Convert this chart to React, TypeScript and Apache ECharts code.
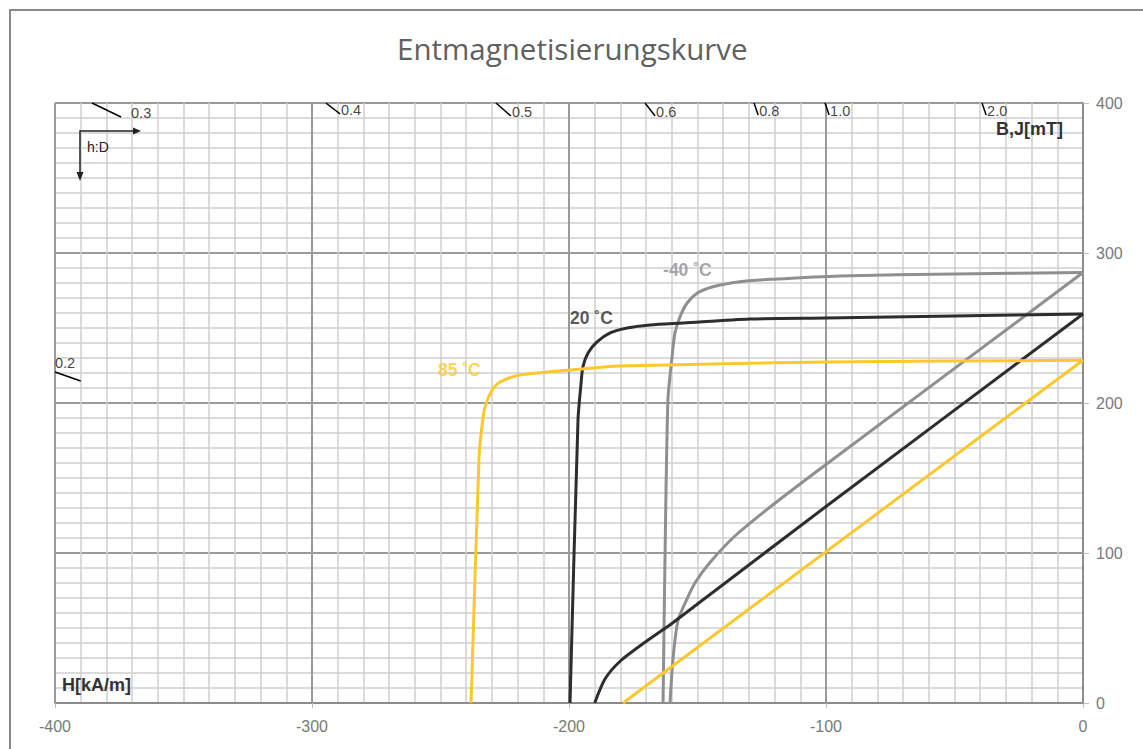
import React, { useEffect, useRef } from "react";
import * as echarts from "echarts";

// ---------- data ----------
const xTicks = [-400, -300, -200, -100, 0];
const yTicks = [0, 100, 200, 300, 400];

// -40 °C
const jM40H = [0, -50, -94.6, -120.6, -133.5, -144, -150.2, -154.1, -156.8, -158.8, -159.9, -161.5, -162.6, -163.4];
const jM40B = [287, 286, 284.7, 282.5, 280.9, 277.5, 273.1, 266.5, 257.5, 246.5, 230.9, 202, 102, 0];
const bM40H = [0, -100, -120, -135, -145, -151, -155, -157.6, -159.5, -160.7];
const bM40B = [287, 159, 133, 112, 94, 80, 66, 55, 30, 0];

// 20 °C
const j20H = [0, -50, -100, -129.6, -155.6, -168.5, -177.4, -184, -189.1, -192.6, -194.6, -195.3, -196.5, -199.6];
const j20B = [259.3, 258, 256.7, 256, 253.3, 252, 250, 246.7, 240.7, 233.3, 224, 213.3, 188.7, 0];
const b20H = [0, -100, -150, -160, -170, -180, -186, -190];
const b20B = [259.3, 131, 66, 53, 41, 28, 16, 0];

// 85 °C
const j85H = [0, -100, -180.2, -199.6, -219.1, -226.8, -229.9, -232.7, -233.9, -235, -238.1];
const j85B = [228.5, 227.3, 224.7, 222, 218.7, 214, 208.7, 197.3, 184, 164, 0];
const b85H = [0, -179];
const b85B = [228.5, 0];

// load lines (h:D) – start/end in data units
const loadLabels = ["0.3", "0.4", "0.5", "0.6", "0.8", "1.0", "2.0", "0.2"];
const loadX1 = [-385.6, -294.6, -228.4, -170.4, -128, -100.4, -39.3, -400];
const loadY1 = [400, 400, 400, 400, 400, 400, 400, 220.7];
const loadX2 = [-374.3, -289.1, -222.6, -166.5, -126.4, -98.8, -37.7, -390];
const loadY2 = [390.7, 392.7, 391.3, 391.3, 392, 392, 392, 214.7];

// curve labels
const curveNames = ["-40 ˚C", "20 ˚C", "85 ˚C"];
const curveLabelH = [-163.4, -199.6, -251];
const curveLabelB = [288.7, 256.7, 222];

const GRAY = "#8f8f91";
const BLACK = "#2c2d2f";
const YELLOW = "#fdc72e";
const curveColors = [GRAY, BLACK, YELLOW];
const FONT = "'Liberation Sans', Arial, sans-serif";

const zip = (a: number[], b: number[]) => a.map((v, i) => [v, b[i]]);

export default function App() {
  const ref = useRef<HTMLDivElement>(null);
  useEffect(() => {
    if (!ref.current) return;
    const chart = echarts.init(ref.current, undefined, { renderer: "svg" });

    const curve = (name: string, h: number[], b: number[], color: string, smooth: number) => ({
      name,
      type: "line",
      data: zip(h, b),
      showSymbol: false,
      symbol: "none",
      smooth,
      lineStyle: { color, width: 3 },
      z: 5,
    });

    const loadSeries = loadLabels.map((l, i) => ({
      type: "line",
      data: [
        [loadX1[i], loadY1[i]],
        [loadX2[i], loadY2[i]],
      ],
      showSymbol: false,
      symbol: "none",
      lineStyle: { color: "#000", width: 1.5 },
      z: 4,
    }));

    const loadLabelSeries = {
      type: "scatter",
      symbolSize: 0,
      z: 6,
      data: loadLabels.map((l, i) => ({
        value: i === 7 ? [loadX1[i], loadY1[i]] : [loadX2[i], loadY2[i]],
        label: {
          show: true,
          formatter: l,
          position: i === 7 ? [0, -1] : [i === 0 ? 10 : 1, -4],
          align: "left",
          verticalAlign: i === 7 ? "bottom" : "middle",
          color: "#111",
          fontSize: 14.5,
          fontFamily: FONT,
        },
      })),
    };

    const curveLabelSeries = {
      type: "scatter",
      symbolSize: 0,
      z: 7,
      data: curveNames.map((n, i) => ({
        value: [curveLabelH[i], curveLabelB[i]],
        label: {
          show: true,
          formatter: n,
          position: [0, 0],
          align: "left",
          verticalAlign: "middle",
          color: curveColors[i],
          fontSize: 17.5,
          fontWeight: "bold",
          fontFamily: FONT,
        },
      })),
    };

    chart.setOption({
      animation: false,
      title: {
        text: "Entmagnetisierungskurve",
        left: 392,
        top: 28,
        textStyle: {
          color: "#606060",
          fontSize: 29.5,
          fontWeight: "normal",
          fontFamily: "'Open Sans', sans-serif",
        },
      },
      grid: { left: 55, top: 103, right: 60, bottom: 46, containLabel: false },
      xAxis: {
        type: "value",
        min: xTicks[0],
        max: xTicks[xTicks.length - 1],
        interval: 100,
        axisLine: { show: true, onZero: false, lineStyle: { color: "#8c8c8c", width: 2 } },
        axisTick: { show: true, length: 5, lineStyle: { color: "#bdbdbd" } },
        axisLabel: { color: "#7a7a7a", fontSize: 16, margin: 15, fontFamily: FONT },
        splitLine: { show: true, lineStyle: { color: "#9a9a9a", width: 2 } },
        minorTick: { show: false, splitNumber: 10 },
        minorSplitLine: { show: true, lineStyle: { color: "#cfcfcf", width: 1.5 } },
      },
      yAxis: {
        type: "value",
        position: "right",
        min: yTicks[0],
        max: yTicks[yTicks.length - 1],
        interval: 100,
        axisLine: { show: true, onZero: false, lineStyle: { color: "#8c8c8c", width: 2 } },
        axisTick: { show: true, length: 6, lineStyle: { color: "#bdbdbd" } },
        axisLabel: { color: "#7a7a7a", fontSize: 16, margin: 13, fontFamily: FONT },
        splitLine: { show: true, lineStyle: { color: "#9a9a9a", width: 2 } },
        minorTick: { show: false, splitNumber: 10 },
        minorSplitLine: { show: true, lineStyle: { color: "#cfcfcf", width: 1.5 } },
      },
      series: [
        ...loadSeries,
        curve("J -40", jM40H, jM40B, GRAY, 0.25),
        curve("B -40", bM40H, bM40B, GRAY, 0.25),
        curve("J 20", j20H, j20B, BLACK, 0.25),
        curve("B 20", b20H, b20B, BLACK, 0.25),
        curve("J 85", j85H, j85B, YELLOW, 0.25),
        curve("B 85", b85H, b85B, YELLOW, 0),
        loadLabelSeries,
        curveLabelSeries,
      ],
      graphic: [
        {
          type: "rect",
          shape: { x: 10, y: 10, width: 1160, height: 760 },
          style: { fill: "none", stroke: "#8a8a8a", lineWidth: 2 },
          silent: true,
        },
        {
          type: "polyline",
          shape: { points: [[134, 131], [80, 131], [80, 173]] },
          style: { stroke: "#222", lineWidth: 1.5, fill: "none" },
          z: 10,
        },
        {
          type: "polygon",
          shape: { points: [[141, 131], [133, 127.5], [133, 134.5]] },
          style: { fill: "#222" },
          z: 10,
        },
        {
          type: "polygon",
          shape: { points: [[80, 181], [76.5, 172], [83.5, 172]] },
          style: { fill: "#222" },
          z: 10,
        },
        {
          type: "text",
          x: 87,
          y: 140,
          style: { text: "h:D", fill: "#222", fontSize: 14, fontFamily: FONT },
          z: 10,
        },
        {
          type: "text",
          x: 1063,
          y: 120,
          style: {
            text: "B,J[mT]",
            fill: "#333",
            fontSize: 18,
            fontWeight: "bold",
            align: "right",
            fontFamily: FONT,
          },
          z: 10,
        },
        {
          type: "text",
          x: 62,
          y: 676,
          style: {
            text: "H[kA/m]",
            fill: "#333",
            fontSize: 18,
            fontWeight: "bold",
            fontFamily: FONT,
          },
          z: 10,
        },
      ],
    });
    return () => chart.dispose();
  }, []);
  return (
    <div
      ref={ref}
      style={{ position: "fixed", left: 0, top: 0, width: 1143, height: 749, background: "#fff" }}
    />
  );
}
